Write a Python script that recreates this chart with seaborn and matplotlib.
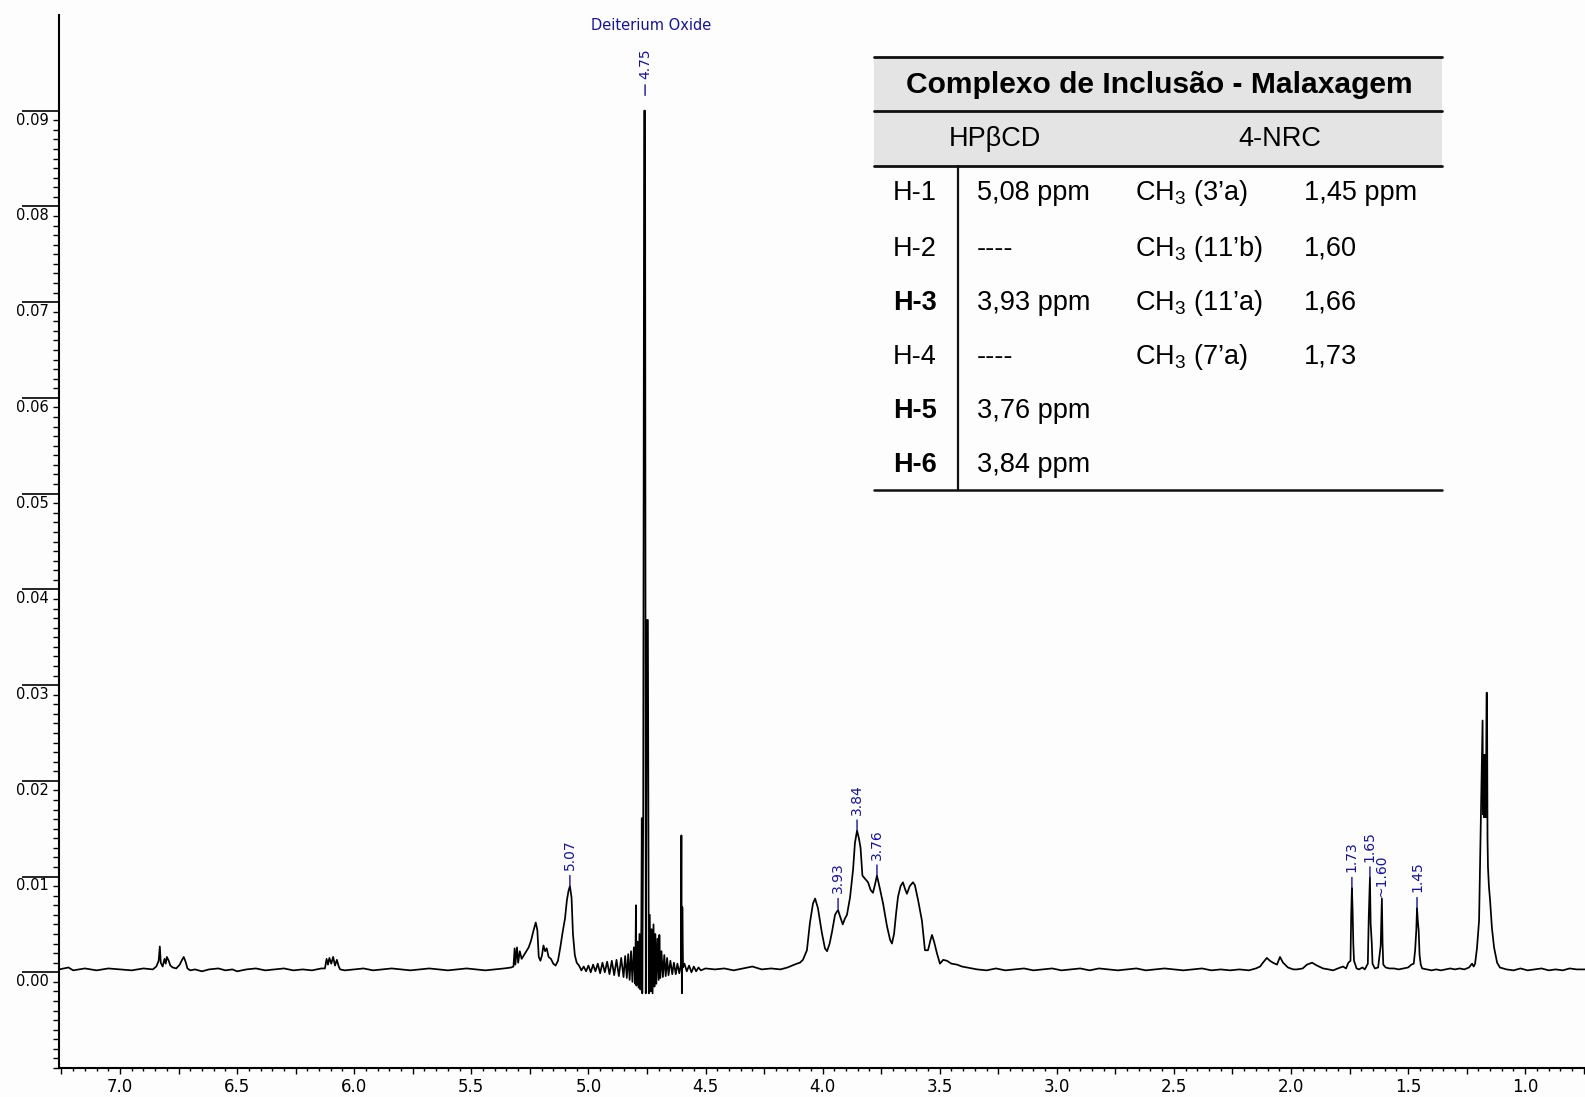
import numpy as np
import pandas as pd
import matplotlib
matplotlib.use("Agg")
import matplotlib.pyplot as plt
import seaborn as sns
from matplotlib.ticker import MultipleLocator, FixedLocator, FuncFormatter
from matplotlib.lines import Line2D
from matplotlib.patches import Rectangle

# ---------------- spectrum trace (ppm, intensity) ----------------
aromatic = [(7.26, 0.0003), (7.22, 0.0005), (7.20, 0.0002), (7.15, 0.0004), (7.10, 0.0002),
            (7.05, 0.0004), (7.00, 0.0003), (6.95, 0.0002), (6.90, 0.0004), (6.86, 0.0003),
            (6.845, 0.0006), (6.835, 0.0012), (6.830, 0.0027), (6.826, 0.0010), (6.818, 0.0006),
            (6.810, 0.0014), (6.805, 0.0009), (6.800, 0.0016), (6.792, 0.0012), (6.785, 0.0007),
            (6.775, 0.0005), (6.760, 0.0004), (6.745, 0.0008), (6.735, 0.0013), (6.728, 0.0016),
            (6.720, 0.0011), (6.712, 0.0004), (6.70, 0.0002), (6.68, 0.0003), (6.65, 0.0001),
            (6.62, 0.0003), (6.58, 0.0004), (6.55, 0.0002), (6.52, 0.0003), (6.50, 0.0001),
            (6.46, 0.0003), (6.42, 0.0004), (6.38, 0.0002), (6.34, 0.0003), (6.30, 0.0004),
            (6.26, 0.0002), (6.22, 0.0003), (6.18, 0.0002), (6.14, 0.0004), (6.125, 0.0004),
            (6.118, 0.0014), (6.112, 0.0008), (6.106, 0.0015), (6.098, 0.0009), (6.090, 0.0016),
            (6.082, 0.0007), (6.074, 0.0013), (6.066, 0.0006), (6.06, 0.0003), (6.04, 0.0002),
            (6.00, 0.0003), (5.96, 0.0004), (5.92, 0.0002), (5.88, 0.0003), (5.84, 0.0004),
            (5.80, 0.0003), (5.76, 0.0002), (5.72, 0.0003), (5.68, 0.0004), (5.64, 0.0003),
            (5.60, 0.0002), (5.56, 0.0003), (5.52, 0.0004), (5.48, 0.0003), (5.44, 0.0002),
            (5.40, 0.0003), (5.36, 0.0004), (5.33, 0.0005)]

anomeric = [(5.32, 0.0006), (5.315, 0.0025), (5.312, 0.0008), (5.305, 0.0026), (5.300, 0.0010),
            (5.293, 0.0022), (5.285, 0.0014), (5.27, 0.0020), (5.255, 0.0026), (5.245, 0.0033),
            (5.235, 0.0043), (5.225, 0.0052), (5.218, 0.0044), (5.212, 0.0016), (5.205, 0.0012),
            (5.198, 0.0018), (5.192, 0.0028), (5.185, 0.0022), (5.178, 0.0025), (5.170, 0.0016),
            (5.160, 0.0014), (5.150, 0.0009), (5.140, 0.0007), (5.130, 0.0012), (5.120, 0.0026),
            (5.110, 0.0042), (5.100, 0.0056), (5.092, 0.0075), (5.085, 0.0085), (5.079, 0.0090),
            (5.072, 0.0078), (5.066, 0.0040), (5.058, 0.0018), (5.050, 0.0010), (5.040, 0.0007)]

water = [(5.030, 0.0002), (5.020, 0.0006), (5.010, 0.0001), (5.000, 0.0007), (4.990, 0.0000),
         (4.980, 0.0008), (4.970, 0.0001), (4.960, 0.0009), (4.950, -0.0001), (4.940, 0.0010),
         (4.930, 0.0000), (4.920, 0.0011), (4.910, -0.0002), (4.900, 0.0012), (4.890, -0.0003),
         (4.880, 0.0013), (4.870, -0.0004), (4.860, 0.0015), (4.850, -0.0005), (4.843, 0.0017),
         (4.836, -0.0006), (4.830, 0.0019), (4.824, -0.0008), (4.818, 0.0022), (4.812, -0.0010),
         (4.806, 0.0026), (4.800, -0.0012), (4.797, 0.0070), (4.795, -0.0014), (4.790, 0.0032),
         (4.786, -0.0016), (4.782, 0.0040), (4.778, -0.0018), (4.774, 0.0050), (4.772, 0.0161),
         (4.770, -0.0022), (4.766, 0.0165), (4.762, 0.0900), (4.758, 0.0900), (4.755, -0.0022),
         (4.750, 0.0368), (4.746, 0.0368), (4.742, -0.0022), (4.738, 0.0060), (4.734, -0.0020),
         (4.730, 0.0045), (4.726, -0.0022), (4.722, 0.0050), (4.718, -0.0015), (4.714, 0.0040),
         (4.710, -0.0012), (4.705, 0.0035), (4.700, -0.0008), (4.697, 0.0039), (4.693, -0.0006),
         (4.688, 0.0022), (4.682, -0.0005), (4.676, 0.0018), (4.670, -0.0004), (4.664, 0.0015),
         (4.658, -0.0003), (4.650, 0.0012), (4.642, -0.0002), (4.635, 0.0010), (4.627, -0.0002),
         (4.620, 0.0009), (4.612, -0.0001), (4.605, 0.0008), (4.603, 0.0143), (4.601, -0.0022),
         (4.599, 0.0068), (4.596, 0.0005), (4.590, 0.0009), (4.580, 0.0001), (4.570, 0.0007),
         (4.560, 0.0000), (4.550, 0.0006), (4.540, 0.0001), (4.53, 0.0005), (4.52, 0.0002),
         (4.50, 0.0004)]

middle = [(4.46, 0.0003), (4.42, 0.0004), (4.38, 0.0002), (4.34, 0.0004), (4.30, 0.0006),
          (4.26, 0.0003), (4.22, 0.0004), (4.18, 0.0003), (4.15, 0.0005), (4.13, 0.0007)]

cyclodextrin = [(4.11, 0.0009), (4.097, 0.0010), (4.084, 0.0013), (4.067, 0.0023), (4.054, 0.0052),
                (4.041, 0.0072), (4.032, 0.0077), (4.020, 0.0067), (4.003, 0.0041), (3.990, 0.0025),
                (3.981, 0.0022), (3.970, 0.0030), (3.960, 0.0042), (3.947, 0.0060), (3.940, 0.0063),
                (3.934, 0.0065), (3.925, 0.0058), (3.914, 0.0050), (3.905, 0.0056), (3.896, 0.0060),
                (3.883, 0.0078), (3.870, 0.0107), (3.862, 0.0135), (3.853, 0.0148), (3.845, 0.0140),
                (3.838, 0.0130), (3.830, 0.0101), (3.820, 0.0098), (3.806, 0.0094), (3.795, 0.0086),
                (3.785, 0.0083), (3.776, 0.0092), (3.768, 0.0101), (3.756, 0.0088), (3.742, 0.0072),
                (3.725, 0.0048), (3.712, 0.0034), (3.704, 0.0030), (3.695, 0.0040), (3.686, 0.0062),
                (3.678, 0.0079), (3.667, 0.0090), (3.657, 0.0094), (3.648, 0.0087), (3.640, 0.0082),
                (3.628, 0.0090), (3.614, 0.0094), (3.606, 0.0091), (3.592, 0.0075), (3.576, 0.0054),
                (3.563, 0.0023), (3.550, 0.0023), (3.540, 0.0033), (3.533, 0.0039), (3.524, 0.0032),
                (3.512, 0.0020), (3.499, 0.0009), (3.485, 0.0013), (3.469, 0.0012), (3.450, 0.0009),
                (3.426, 0.0008), (3.405, 0.0006), (3.383, 0.0005)]

aliphatic = [(3.34, 0.0003), (3.30, 0.0002), (3.26, 0.0004), (3.22, 0.0002), (3.18, 0.0003),
             (3.14, 0.0004), (3.10, 0.0002), (3.06, 0.0003), (3.02, 0.0004), (2.98, 0.0002),
             (2.94, 0.0003), (2.90, 0.0004), (2.86, 0.0002), (2.82, 0.0004), (2.78, 0.0003),
             (2.74, 0.0002), (2.70, 0.0003), (2.66, 0.0004), (2.62, 0.0002), (2.58, 0.0003),
             (2.54, 0.0004), (2.50, 0.0003), (2.46, 0.0002), (2.42, 0.0003), (2.38, 0.0004),
             (2.34, 0.0002), (2.30, 0.0003), (2.26, 0.0002), (2.22, 0.0003), (2.18, 0.0002),
             (2.15, 0.0004), (2.132, 0.0006), (2.12, 0.0010), (2.103, 0.0015), (2.09, 0.0012),
             (2.077, 0.0010), (2.06, 0.0008), (2.047, 0.0016), (2.034, 0.0010), (2.013, 0.0005),
             (1.99, 0.0003), (1.975, 0.0003), (1.95, 0.0004), (1.932, 0.0008), (1.91, 0.0010),
             (1.889, 0.0007), (1.863, 0.0004), (1.84, 0.0003), (1.82, 0.0002), (1.80, 0.0004),
             (1.778, 0.0006)]

methyls = [(1.765, 0.0004), (1.755, 0.0010), (1.746, 0.0012), (1.743, 0.0060), (1.740, 0.0088),
           (1.737, 0.0065), (1.734, 0.0030), (1.731, 0.0012), (1.72, 0.0004), (1.71, 0.0003),
           (1.695, 0.0005), (1.685, 0.0003), (1.672, 0.0009), (1.668, 0.0058), (1.663, 0.0099),
           (1.660, 0.0051), (1.655, 0.0030), (1.652, 0.0009), (1.642, 0.0004), (1.628, 0.0005),
           (1.617, 0.0028), (1.612, 0.0077), (1.609, 0.0030), (1.606, 0.0008), (1.596, 0.0005),
           (1.58, 0.0004), (1.56, 0.0004), (1.54, 0.0003), (1.52, 0.0004), (1.50, 0.0005),
           (1.486, 0.0008), (1.476, 0.0009), (1.470, 0.0023), (1.465, 0.0044), (1.462, 0.0067),
           (1.459, 0.0055), (1.455, 0.0044), (1.451, 0.0018), (1.446, 0.0008), (1.44, 0.0004),
           (1.42, 0.0003), (1.40, 0.0002), (1.38, 0.0003), (1.36, 0.0002), (1.34, 0.0003),
           (1.32, 0.0004), (1.30, 0.0003), (1.28, 0.0004), (1.26, 0.0003), (1.24, 0.0005),
           (1.227, 0.0009), (1.22, 0.0006)]

doublet = [(1.214, 0.0009), (1.206, 0.0025), (1.197, 0.0054), (1.189, 0.0166), (1.182, 0.0263),
           (1.180, 0.0165), (1.178, 0.0227), (1.176, 0.0162), (1.174, 0.0227), (1.172, 0.0162),
           (1.170, 0.0227), (1.168, 0.0162), (1.165, 0.0292), (1.163, 0.0292), (1.161, 0.0140),
           (1.159, 0.0110), (1.155, 0.0090), (1.150, 0.0075), (1.142, 0.0046), (1.133, 0.0026),
           (1.120, 0.0010), (1.108, 0.0005)]

tail = [(1.08, 0.0003), (1.05, 0.0002), (1.02, 0.0004), (0.99, 0.0002), (0.96, 0.0003),
        (0.93, 0.0004), (0.90, 0.0002), (0.87, 0.0003), (0.84, 0.0002), (0.81, 0.0004),
        (0.78, 0.0003), (0.745, 0.0003)]

# ---------------- peak labels ----------------
peak_text = ["4.75", "5.07", "3.93", "3.84", "3.76", "1.73", "1.65", "~1.60", "1.45"]
peak_ppm = [4.758, 5.079, 3.934, 3.853, 3.768, 1.740, 1.663, 1.612, 1.462]
peak_top = [0.0916, 0.0090, 0.0066, 0.0148, 0.0101, 0.0088, 0.0099, 0.0077, 0.0067]
peak_dash = [True, True, True, True, True, True, True, False, True]
solvent_label = "Deiterium Oxide"

# ---------------- axis ticks ----------------
y_major = [0.00, 0.01, 0.02, 0.03, 0.04, 0.05, 0.06, 0.07, 0.08, 0.09]
y_labels = ["0.00", "0.01", "0.02", "0.03", "0.04", "0.05", "0.06", "0.07", "0.08", "0.09"]

# ---------------- table ----------------
table_title = "Complexo de Inclusão - Malaxagem"
table_headers = ["HPβCD", "4-NRC"]
row_labels = ["H-1", "H-2", "H-3", "H-4", "H-5", "H-6"]
row_bold = [False, False, True, False, True, True]
hp_values = ["5,08 ppm", "----", "3,93 ppm", "----", "3,76 ppm", "3,84 ppm"]
nrc_groups = ["CH$_3$ (3’a)", "CH$_3$ (11’b)", "CH$_3$ (11’a)", "CH$_3$ (7’a)"]
nrc_values = ["1,45 ppm", "1,60", "1,66", "1,73"]

# ---------------- style ----------------
sns.set_style("ticks")
BG = "#fdfdfd"
BLUE = "#14149a"
plt.rcParams["font.family"] = ["DejaVu Sans"]
plt.rcParams["text.color"] = "black"
plt.rcParams["axes.edgecolor"] = "black"
plt.rcParams["xtick.color"] = "black"
plt.rcParams["ytick.color"] = "black"
plt.rcParams["mathtext.fontset"] = "custom"
plt.rcParams["mathtext.rm"] = "Liberation Sans"
plt.rcParams["mathtext.it"] = "Liberation Sans:italic"
plt.rcParams["mathtext.bf"] = "Liberation Sans:bold"

W, H = 1585, 1097
fig = plt.figure(figsize=(W / 100, H / 100), dpi=100, facecolor=BG)
ax = fig.add_axes([59 / W, 1 - 1068 / H, (W - 59) / W, (1068 - 15) / H])
ax.set_facecolor(BG)

segments = [aromatic, anomeric, water, middle, cyclodextrin, aliphatic, methyls, doublet, tail]
pts = np.array([p for seg in segments for p in seg])
df = pd.DataFrame({"ppm": pts[:, 0], "intensity": pts[:, 1]})
sns.lineplot(data=df, x="ppm", y="intensity", sort=False, estimator=None, errorbar=None,
             color="black", linewidth=1.25, ax=ax)

ax.set_xlim(7.2605, 0.7447)
ax.set_ylim(-0.01, 0.10)
ax.set_xlabel("")
ax.set_ylabel("")
for s in ["top", "right"]:
    ax.spines[s].set_visible(False)
for s in ["left", "bottom"]:
    ax.spines[s].set_linewidth(1.5)
    ax.spines[s].set_color("black")

# x ticks
ax.xaxis.set_major_locator(MultipleLocator(0.25))
ax.xaxis.set_minor_locator(MultipleLocator(0.05))
ax.xaxis.set_major_formatter(FuncFormatter(
    lambda v, p: f"{v:.1f}" if abs(v * 2 - round(v * 2)) < 1e-6 else ""))
ax.tick_params(axis="x", which="major", length=4.5, width=1.0, direction="out",
               labelsize=12, pad=2.5, colors="black")
ax.tick_params(axis="x", which="minor", length=2.5, width=1.0, direction="out")

# y ticks: long major lines, labels below them
ax.yaxis.set_major_locator(FixedLocator(y_major))
ax.yaxis.set_minor_locator(FixedLocator(np.round(np.arange(-0.010, 0.0905, 0.001), 4)))
ax.tick_params(axis="y", which="major", length=26.6, width=1.2, direction="out", labelleft=False)
ax.tick_params(axis="y", which="minor", length=4.3, width=1.0, direction="out")
ytrans = ax.get_yaxis_transform()
for v, lab in zip(y_major, y_labels):
    ax.text(-10 / (W - 59), v - 0.0002, lab, transform=ytrans, ha="right", va="top",
            fontsize=10.5, color="black")

# peak labels
for t, x, y, dash in zip(peak_text, peak_ppm, peak_top, peak_dash):
    if dash:
        ax.annotate(t, xy=(x, y), xytext=(0, 11.5), textcoords="offset points",
                    rotation=90, ha="center", va="bottom", color=BLUE, fontsize=10,
                    arrowprops=dict(arrowstyle="-", color=BLUE, lw=1.0, shrinkA=1.5, shrinkB=0))
    else:
        ax.annotate(t, xy=(x, y), xytext=(0, 1), textcoords="offset points",
                    rotation=90, ha="center", va="bottom", color=BLUE, fontsize=10)
ax.text(4.733, 0.0989, solvent_label, ha="center", va="center", color=BLUE, fontsize=10.5)

# ---------------- table drawn in figure pixels ----------------
fx = lambda x: x / W
fy = lambda y: 1 - y / H
TL, TR = 874, 1442
fig.add_artist(Rectangle((fx(TL), fy(166)), fx(TR) - fx(TL), fy(57) - fy(166),
                         transform=fig.transFigure, facecolor="#e4e4e4", edgecolor="none"))
for yy, lw in [(57, 2.0), (111, 2.0), (166, 2.0), (490, 1.8)]:
    fig.add_artist(Line2D([fx(TL), fx(TR)], [fy(yy), fy(yy)], transform=fig.transFigure,
                          color="#111111", lw=lw))
fig.add_artist(Line2D([fx(958), fx(958)], [fy(166), fy(490)], transform=fig.transFigure,
                      color="#111111", lw=1.6))

TF = "Liberation Sans"
BODY = 19.5
fig.text(fx(1159), fy(85), table_title, ha="center", va="center", fontsize=21.6,
         fontweight="bold", family=TF, color="black")
fig.text(fx(995), fy(137 + 9.5), table_headers[0], ha="center", va="baseline", fontsize=BODY,
         family=TF, color="black")
fig.text(fx(1280), fy(137 + 9.5), table_headers[1], ha="center", va="baseline", fontsize=BODY,
         family=TF, color="black")
row_y = [191, 246, 300, 354, 408, 462]
for i, yy in enumerate(row_y):
    base = fy(yy + 9.5)
    fig.text(fx(893), base, row_labels[i], ha="left", va="baseline", fontsize=BODY, family=TF,
             fontweight="bold" if row_bold[i] else "normal", color="black")
    fig.text(fx(977), base, hp_values[i], ha="left", va="baseline", fontsize=BODY, family=TF,
             color="black")
    if i < len(nrc_groups):
        fig.text(fx(1135), base, nrc_groups[i], ha="left", va="baseline", fontsize=BODY,
                 family=TF, color="black")
        fig.text(fx(1304), base, nrc_values[i], ha="left", va="baseline", fontsize=BODY,
                 family=TF, color="black")

fig.savefig("out.png", dpi=100, facecolor=BG)
